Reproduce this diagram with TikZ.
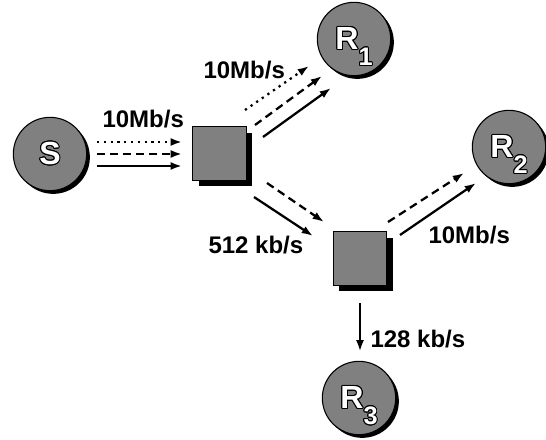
\documentclass[tikz,border=0pt]{standalone}
\usepackage{fontspec}
\setmainfont{Liberation Sans}
\usepackage[copies]{contour}
\usetikzlibrary{arrows.meta,shadows}

\definecolor{nodegray}{RGB}{128,128,128}
\contourlength{0.7pt}
\newcommand{\wtxt}[1]{\contour{black}{\textcolor{white}{#1}}}
\newcommand{\rname}[1]{\wtxt{R}\smash{\raisebox{-12pt}{\fontsize{19}{19}\selectfont\wtxt{#1}}}}

\tikzset{every picture/.style={line width=0.75pt}}
\tikzset{
  host/.style={circle, draw=black, line width=0.8pt, fill=nodegray, minimum size=55pt, inner sep=0pt,
    drop shadow={shadow xshift=2.4pt, shadow yshift=-2.4pt, fill=black, opacity=1},
    font=\fontsize{24}{24}\selectfont\bfseries},
  router/.style={rectangle, draw=black, line width=0.6pt, fill=nodegray, minimum width=40pt, minimum height=40pt, inner sep=0pt,
    drop shadow={shadow xshift=4.5pt, shadow yshift=-4.5pt, fill=black, opacity=1}},
  rate/.style={font=\fontsize{18}{18}\selectfont\bfseries, inner sep=0pt},
  flow/.style={line width=1.7pt, -{Latex[length=8.5pt,width=6pt]}},
  dotflow/.style={flow, dash pattern=on 1.7pt off 3.4pt},
  dashflow/.style={flow, dash pattern=on 6pt off 3.8pt}
}

\begin{document}
\begin{tikzpicture}[x=0.75pt,y=0.75pt,yscale=-1,xscale=1]
\useasboundingbox (0,0) rectangle (546,439);

%Hosts and routers
\node[host] (S) at (50,154) {\wtxt{S}};
\node[host] (R1) at (354,39) {\rname{1}};
\node[host] (R2) at (509,147) {\rname{2}};
\node[host] (R3) at (359,398) {\rname{3}};
\node[router] (sw1) at (219.5,153.5) {};
\node[router] (sw2) at (360,258.5) {};

%S to first router
\draw[dotflow] ([shift={(47,-12)}]S.center) -- ([shift={(-37.5,-11.5)}]sw1.center);
\draw[dashflow] ([shift={(47,0)}]S.center) -- ([shift={(-37.5,0.5)}]sw1.center);
\draw[flow] ([shift={(47,12)}]S.center) -- ([shift={(-37.5,12.5)}]sw1.center);

%first router to R1
\draw[dotflow] ([shift={(25.5,-43.5)}]sw1.center) -- ([shift={(-45,27)}]R1.center);
\draw[dashflow] ([shift={(35.5,-28.5)}]sw1.center) -- ([shift={(-32,37)}]R1.center);
\draw[flow] ([shift={(43.5,-16.5)}]sw1.center) -- ([shift={(-23,49)}]R1.center);

%first router to second router
\draw[dashflow] ([shift={(47.5,29.5)}]sw1.center) -- ([shift={(-36,-36.5)}]sw2.center);
\draw[flow] ([shift={(34.5,43.5)}]sw1.center) -- ([shift={(-47,-22.5)}]sw2.center);

%second router to R2 and R3
\draw[dashflow] ([shift={(28,-36.5)}]sw2.center) -- ([shift={(-45,26)}]R2.center);
\draw[flow] ([shift={(40,-23.5)}]sw2.center) -- ([shift={(-33,36)}]R2.center);
\draw[flow] ([shift={(0,44.5)}]sw2.center) -- ([shift={(1,-46.5)}]R3.center);

%Rates
\node[rate, anchor=base west] (rS) at (102,127) {10Mb/s};
\node[rate, anchor=base west] (rR1) at (203,78) {10Mb/s};
\node[rate, anchor=base west] (rsw2) at (208,253) {512 kb/s};
\node[rate, anchor=base west] (rR2) at (428,243) {10Mb/s};
\node[rate, anchor=base west] (rR3) at (370,347) {128 kb/s};
\end{tikzpicture}
\end{document}
